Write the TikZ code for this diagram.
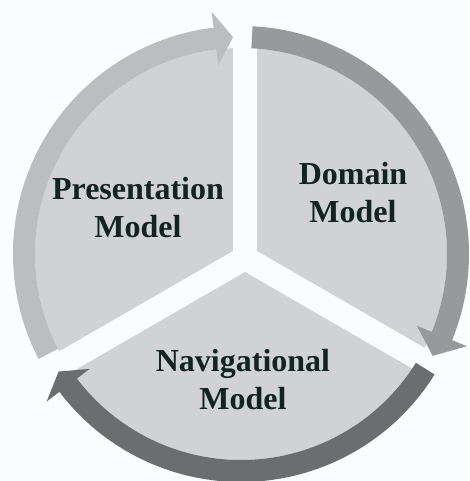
\documentclass[tikz,border=0pt]{standalone}
\usepackage{fontspec}
\setmainfont{Liberation Serif}
\definecolor{paper}{RGB}{251,252,253}
\definecolor{sectorgray}{RGB}{209,210,212}
\definecolor{arrowlight}{RGB}{188,189,191}
\definecolor{arrowmid}{RGB}{152,153,155}
\definecolor{arrowdark}{RGB}{108,109,110}
\definecolor{labelink}{RGB}{16,36,32}

\begin{document}
\begin{tikzpicture}[x=1pt,y=1pt,
  sector/.style={fill=sectorgray},
  lbl/.style={text=labelink,font=\bfseries\fontsize{32}{38}\selectfont,align=center}]
  \useasboundingbox (0,0) rectangle (469,-481);
  \fill[paper] (0,0) rectangle (469,-481);
  \coordinate (c) at (241,-254);
  \coordinate (j) at (245,-258);
  % three sectors with white gaps
  \begin{scope}
    \clip (c) circle[radius=206];
    \fill[sector,shift={(j)},rotate=150] (14,0) -- (174,277) -- (400,0) -- (174,-277) -- cycle;
    \fill[sector,shift={(j)},rotate=30] (14,0) -- (174,277) -- (400,0) -- (174,-277) -- cycle;
    \fill[sector,shift={(j)},rotate=270] (14,0) -- (174,277) -- (400,0) -- (174,-277) -- cycle;
  \end{scope}
  % cycle arrows
  \begin{scope}[shift={(c)}]
    \fill[arrowlight] (207.4:228) arc[start angle=207.4,end angle=96.9,radius=228]
      -- (96.9:244) -- (92.1:217) -- (96.9:190) -- (96.9:206)
      arc[start angle=96.9,end angle=207.4,radius=206] -- cycle;
    \fill[arrowmid] (87.1:228) arc[start angle=87.1,end angle=-22.2,radius=228]
      -- (-22.2:244) -- (-28:217) -- (-22.2:190) -- (-22.2:206)
      arc[start angle=-22.2,end angle=87.1,radius=206] -- cycle;
    \fill[arrowdark] (-31.9:228) arc[start angle=-31.9,end angle=-142.8,radius=228]
      -- (-142.8:244) -- (-147.2:217) -- (-142.8:190) -- (-142.8:206)
      arc[start angle=-142.8,end angle=-31.9,radius=206] -- cycle;
  \end{scope}
  \node[lbl] (pres) at (138,-208) {Presentation\\Model};
  \node[lbl] (dom) at (353,-193) {Domain\\Model};
  \node[lbl] (nav) at (243,-380) {Navigational\\Model};
\end{tikzpicture}
\end{document}
